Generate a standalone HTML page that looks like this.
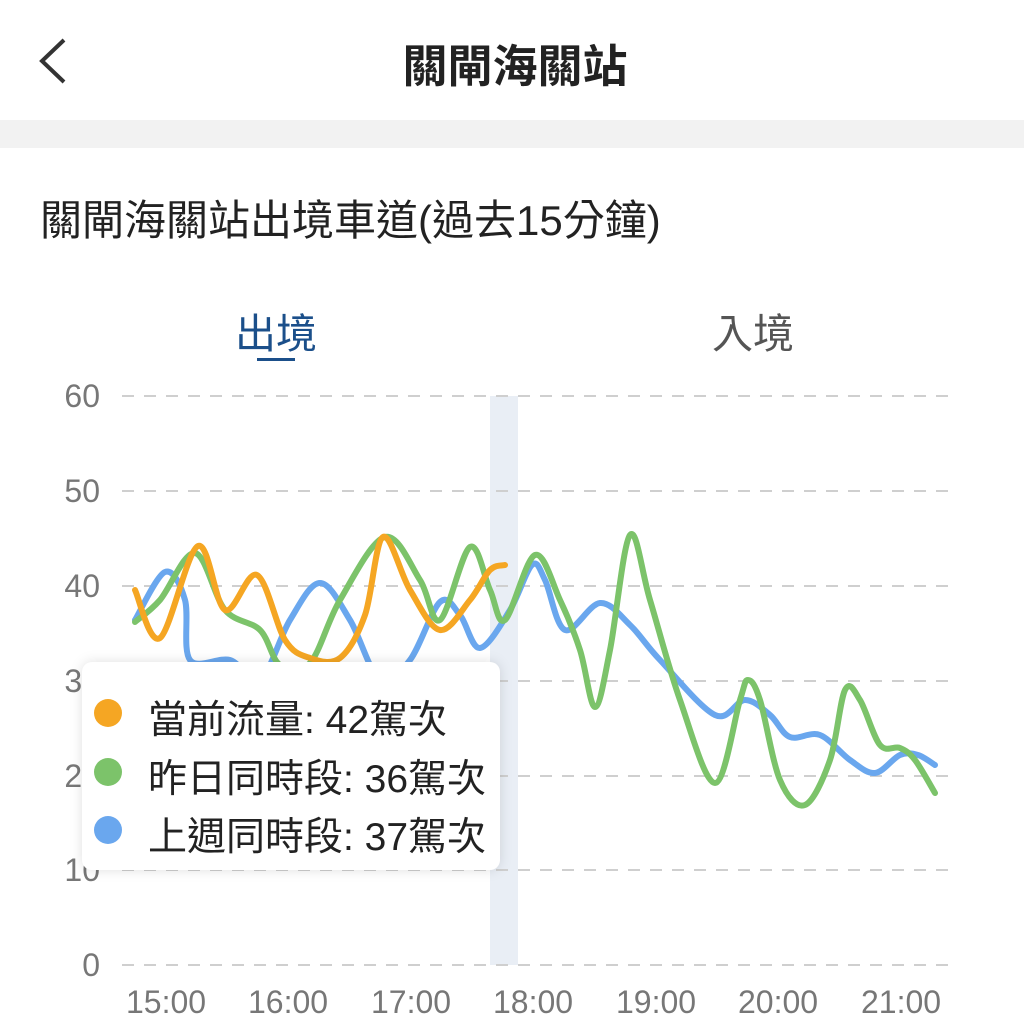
<!DOCTYPE html>
<html><head><meta charset="utf-8"><style>
body{margin:0;width:1024px;height:1024px;background:#fff;overflow:hidden;font-family:"Liberation Sans","Noto Sans CJK TC",sans-serif;position:relative}
.a{position:absolute;white-space:nowrap}
.y{left:30px;width:70px;text-align:right;font-size:32px;color:#777;line-height:36px}
.x{top:984px;font-size:32px;color:#777}
</style></head><body>
<svg class="a" style="left:0;top:0" width="1024" height="1024">
<rect x="0" y="120" width="1024" height="28" fill="#f2f2f2"/>
<polyline points="64,40 42,61 64,82" fill="none" stroke="#333" stroke-width="4"/>
<rect x="490" y="396" width="28" height="569" fill="#e9eef5"/>
<g stroke="#cfcfcf" stroke-width="2" stroke-dasharray="12,10">
<line x1="122" y1="396" x2="948" y2="396"/><line x1="122" y1="491" x2="948" y2="491"/><line x1="122" y1="586" x2="948" y2="586"/><line x1="122" y1="681" x2="948" y2="681"/><line x1="122" y1="776" x2="948" y2="776"/><line x1="122" y1="870" x2="948" y2="870"/><line x1="122" y1="965" x2="948" y2="965"/>
</g>
<rect x="257" y="358" width="38" height="3" fill="#1b4f8a"/>
<g id="lines" fill="none" stroke-width="6" stroke-linecap="round" stroke-linejoin="round"></g>
</svg>
<div class="a y" style="top:378px">60</div>
<div class="a y" style="top:473px">50</div>
<div class="a y" style="top:568px">40</div>
<div class="a y" style="top:663px">30</div>
<div class="a y" style="top:758px">20</div>
<div class="a y" style="top:852px">10</div>
<div class="a y" style="top:947px">0</div>
<svg class="a" style="left:0;top:0" width="1024" height="1024">
<rect x="82" y="662" width="418" height="208" rx="10" fill="#fff" style="filter:drop-shadow(0 0 6px rgba(0,0,0,0.12))"/>
<circle cx="108" cy="713" r="14" fill="#f5a623"/>
<circle cx="108" cy="772" r="14" fill="#7cc36a"/>
<circle cx="108" cy="830" r="14" fill="#6aa7ee"/>
</svg>
<div class="a" style="left:0;width:1030px;top:30px;text-align:center;font-size:45px;font-weight:bold;color:#222">關閘海關站</div>
<div class="a" style="left:40px;top:187px;font-size:42px;color:#222">關閘海關站出境車道(過去15分鐘)</div>
<div class="a" style="left:235px;top:300px;font-size:41px;color:#1b4f8a">出境</div>
<div class="a" style="left:712px;top:300px;font-size:41px;color:#555">入境</div>
<div class="a x" style="left:126px">15:00</div>
<div class="a x" style="left:248px">16:00</div>
<div class="a x" style="left:371px">17:00</div>
<div class="a x" style="left:493px">18:00</div>
<div class="a x" style="left:616px">19:00</div>
<div class="a x" style="left:738px">20:00</div>
<div class="a x" style="left:861px">21:00</div>
<div class="a" style="left:148px;top:689px;font-size:39px;color:#222">當前流量: 42駕次</div>
<div class="a" style="left:148px;top:748px;font-size:39px;color:#222">昨日同時段: 36駕次</div>
<div class="a" style="left:148px;top:806px;font-size:39px;color:#222">上週同時段: 37駕次</div>
<script>
function cr(p){let d="M"+p[0][0]+","+p[0][1];for(let i=0;i<p.length-1;i++){const p0=p[i-1]||p[i],p1=p[i],p2=p[i+1],p3=p[i+2]||p2;d+=" C"+(p1[0]+(p2[0]-p0[0])/6)+","+(p1[1]+(p2[1]-p0[1])/6)+" "+(p2[0]-(p3[0]-p1[0])/6)+","+(p2[1]-(p3[1]-p1[1])/6)+" "+p2[0]+","+p2[1];}return d;}
const B=[[135,620],[165,572],[185,600],[190,660],[230,660],[260,680],[290,620],[320,583],[350,620],[380,680],[410,660],[440,602],[460,615],[480,648],[510,610],[532,565],[545,580],[565,630],[600,603],[630,625],[660,660],[715,715],[745,700],[770,715],[790,737],[820,735],[850,760],[875,773],[900,755],[918,755],[935,765]];
const G=[[135,622],[160,600],[195,553],[225,610],[260,630],[280,665],[310,663],[340,600],[385,537],[420,580],[440,620],[470,547],[490,590],[505,620],[535,555],[560,600],[580,650],[595,707],[610,650],[630,535],[650,600],[680,700],[715,783],[740,700],[748,680],[760,700],[780,780],[805,805],[830,760],[845,690],[860,700],[880,745],[900,748],[915,760],[935,793]];
const O=[[135,590],[160,638],[198,546],[225,610],[257,575],[285,640],[310,658],[340,658],[365,615],[383,537],[410,590],[440,630],[470,600],[490,570],[505,565]];
const g=document.getElementById("lines");
[[B,"#6aa7ee"],[G,"#7cc36a"],[O,"#f5a623"]].forEach(([p,c])=>{const e=document.createElementNS("http://www.w3.org/2000/svg","path");e.setAttribute("d",cr(p));e.setAttribute("stroke",c);g.appendChild(e);});
</script>
</body></html>
